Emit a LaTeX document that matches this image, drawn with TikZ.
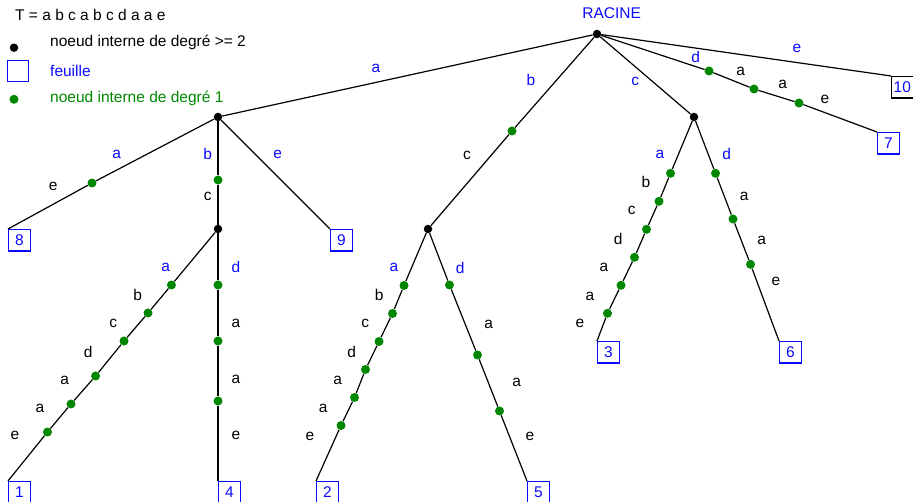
\documentclass[tikz,border=0pt]{standalone}
\usepackage{fontspec}
\setmainfont{Liberation Sans}
\definecolor{bl}{RGB}{10,10,255}
\definecolor{gr}{RGB}{0,135,0}
\begin{document}
\begin{tikzpicture}[x=1pt,y=-1pt,
  every node/.style={font=\fontsize{15.5}{18}\selectfont},
  inode/.style={circle,fill=black,inner sep=0pt,minimum size=8.5pt},
  gdot/.style={circle,fill=gr,inner sep=0pt,minimum size=9pt},
  leaf/.style={draw=bl,text=bl,line width=1.2pt,minimum size=21.5pt,inner sep=0pt,anchor=north west},
  lab/.style={inner sep=0pt,text=black},
  blab/.style={inner sep=0pt,text=bl},
  conn/.style={line width=1.2pt,black}]
\useasboundingbox (0,0) rectangle (913,502);
% legend
\node[lab,anchor=west] (T) at (15,14.7) {T = a b c a b c d a a e};
\node[inode] (k1) at (14,47.7) {};
\node[lab,anchor=west] (t1) at (50,42.7) {noeud interne de degré >= 2};
\node[leaf,anchor=center,minimum size=21pt] (k2) at (18.3,71.3) {};
\node[blab,anchor=west] (t2) at (50,70.7) {feuille};
\node[gdot] (k3) at (14,99.3) {};
\node[lab,anchor=west,text=gr] (t3) at (50,98.7) {noeud interne de degré 1};
% internal nodes
\node[blab] (racine) at (611.7,13.3) {RACINE};
\node[inode] (R) at (597,34) {};
\node[inode] (A) at (218,117) {};
\node[inode] (B) at (428,229) {};
\node[inode] (C) at (694,117) {};
\node[inode] (D) at (218,229) {};
% leaves
\node[leaf] (L1) at (8,481) {1};
\node[leaf] (L2) at (316,481) {2};
\node[leaf] (L3) at (597,341) {3};
\node[leaf] (L4) at (218,481) {4};
\node[leaf] (L5) at (527,481) {5};
\node[leaf] (L6) at (779,341) {6};
\node[leaf] (L7) at (877,132) {7};
\node[leaf] (L8) at (8,229) {8};
\node[leaf] (L9) at (330,229) {9};
\node[leaf,draw=black] (L10) at (891,76) {10};
% green dots
\node[gdot] (rb1) at (512,131) {};
\node[gdot] (r71) at (709,71) {};
\node[gdot] (r72) at (754,89) {};
\node[gdot] (r73) at (799,103) {};
\node[gdot] (a81) at (92,183) {};
\node[gdot] (ad1) at (218,180) {};
\node[gdot] (d11) at (171.4,285) {};
\node[gdot] (d12) at (148,313) {};
\node[gdot] (d13) at (124,341) {};
\node[gdot] (d14) at (95.6,376) {};
\node[gdot] (d15) at (71,404) {};
\node[gdot] (d16) at (47.5,432) {};
\node[gdot] (d41) at (218,285) {};
\node[gdot] (d42) at (218,341) {};
\node[gdot] (d43) at (218,401) {};
\node[gdot] (b21) at (404,285.5) {};
\node[gdot] (b22) at (392.5,313.5) {};
\node[gdot] (b23) at (379,341.5) {};
\node[gdot] (b24) at (365.5,369.5) {};
\node[gdot] (b25) at (354.5,397.5) {};
\node[gdot] (b26) at (341,425.5) {};
\node[gdot] (b51) at (449.5,285) {};
\node[gdot] (b52) at (477.5,355) {};
\node[gdot] (b53) at (499.5,411) {};
\node[gdot] (c31) at (670.5,173.3) {};
\node[gdot] (c32) at (659,201.3) {};
\node[gdot] (c33) at (646.5,229.3) {};
\node[gdot] (c34) at (634.5,257.3) {};
\node[gdot] (c35) at (621,285.3) {};
\node[gdot] (c36) at (607.5,313.3) {};
\node[gdot] (c61) at (715.5,173.3) {};
\node[gdot] (c62) at (733,219) {};
\node[gdot] (c63) at (750.5,264.3) {};
% connectors
\draw[conn] (R) -- (A);
\draw[conn] (R) -- (rb1) -- (B);
\draw[conn] (R) -- (C);
\draw[conn] (R) -- (r71) -- (r72) -- (r73) -- (L7.north west);
\draw[conn] (R) -- (L10.north west);
\draw[conn] (A) -- (a81) -- (L8.north west);
\draw[conn] (A) -- (ad1) -- (D);
\draw[conn] (A) -- (L9.north west);
\draw[conn] (D) -- (d11) -- (d12) -- (d13) -- (d14) -- (d15) -- (d16) -- (L1.north west);
\draw[conn] (D) -- (d41) -- (d42) -- (d43) -- (L4.north west);
\draw[conn] (B) -- (b21) -- (b22) -- (b23) -- (b24) -- (b25) -- (b26) -- (L2.north west);
\draw[conn] (B) -- (b51) -- (b52) -- (b53) -- (L5.north west);
\draw[conn] (C) -- (c31) -- (c32) -- (c33) -- (c34) -- (c35) -- (c36) -- (L3.north west);
\draw[conn] (C) -- (c61) -- (c62) -- (c63) -- (L6.north west);
% labels
\node[blab] (la1) at (376,68) {a};
\node[blab] (la2) at (531,80) {b};
\node[lab] (la3) at (467,155) {c};
\node[blab] (la4) at (635.3,81.7) {c};
\node[blab] (la5) at (695.7,56.7) {d};
\node[lab] (la6) at (740.7,71) {a};
\node[lab] (la7) at (782.7,84.3) {a};
\node[lab] (la8) at (825,99) {e};
\node[blab] (la9) at (797,48) {e};
\node[blab] (lb1) at (116.7,154.3) {a};
\node[lab] (lb2) at (53.3,186.7) {e};
\node[blab] (lb3) at (207.7,154.3) {b};
\node[lab] (lb4) at (207.7,196.7) {c};
\node[blab] (lb5) at (277.7,154.3) {e};
\node[blab] (lc1) at (165.7,267.3) {a};
\node[lab] (lc2) at (137.7,295) {b};
\node[lab] (lc3) at (113.3,323.3) {c};
\node[lab] (lc4) at (88.3,351.7) {d};
\node[lab] (lc5) at (64.7,380) {a};
\node[lab] (lc6) at (40,408.3) {a};
\node[lab] (lc7) at (15,435.7) {e};
\node[blab] (ld1) at (236,267.3) {d};
\node[lab] (ld2) at (236,323.3) {a};
\node[lab] (ld3) at (236,379.3) {a};
\node[lab] (ld4) at (236,435.7) {e};
\node[blab] (le1) at (394,267.7) {a};
\node[lab] (le2) at (379.3,295.3) {b};
\node[lab] (le3) at (365.3,323.7) {c};
\node[lab] (le4) at (351.7,351.7) {d};
\node[lab] (le5) at (337.7,380) {a};
\node[lab] (le6) at (323.3,408) {a};
\node[lab] (le7) at (310,436) {e};
\node[blab] (lf1) at (460.3,267.7) {d};
\node[lab] (lf2) at (488.7,324) {a};
\node[lab] (lf3) at (516.7,382.7) {a};
\node[lab] (lf4) at (530,436) {e};
\node[blab] (lg1) at (660,154.3) {a};
\node[lab] (lg2) at (646,182.3) {b};
\node[lab] (lg3) at (631.7,210.7) {c};
\node[lab] (lg4) at (618.3,239.3) {d};
\node[lab] (lg5) at (604,267.7) {a};
\node[lab] (lg6) at (590,296) {a};
\node[lab] (lg7) at (580,323.3) {e};
\node[blab] (lh1) at (726.7,154.3) {d};
\node[lab] (lh2) at (744.3,196.7) {a};
\node[lab] (lh3) at (761.7,240) {a};
\node[lab] (lh4) at (776,281.7) {e};
\end{tikzpicture}
\end{document}
